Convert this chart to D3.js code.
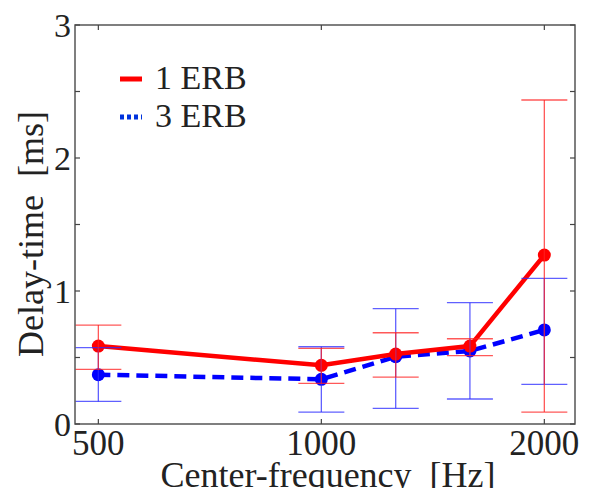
<!DOCTYPE html>
<html>
<head>
<meta charset="utf-8">
<script src="https://cdn.jsdelivr.net/npm/d3@7"></script>
<style>
  body { margin: 0; background: #fff; }
  text { font-family: "Liberation Serif", "Times New Roman", serif; fill: #222; white-space: pre; }
</style>
</head>
<body>
<div id="chart"></div>
<script>
"use strict";

// center frequencies (Hz)
const freqs = [500, 1000, 1260, 1587, 2000];
const xTicks = [500, 1000, 2000];
const yTicks = [0, 0.5, 1, 1.5, 2, 2.5, 3];
const yLabels = [0, 1, 2, 3];

// 1 ERB : mean, lower, upper (ms)
const erb1Mean = [0.586, 0.441, 0.526, 0.586, 1.27];
const erb1Low  = [0.411, 0.306, 0.353, 0.514, 0.09];
const erb1High = [0.744, 0.569, 0.686, 0.641, 2.436];

// 3 ERB
const erb3Mean = [0.371, 0.336, 0.506, 0.549, 0.707];
const erb3Low  = [0.17, 0.09, 0.118, 0.188, 0.298];
const erb3High = [0.574, 0.581, 0.867, 0.912, 1.095];

const width = 591, height = 488;
const plot = {left: 75, right: 575, top: 25, bottom: 424};

const svg = d3.select("#chart").append("svg")
  .attr("width", width)
  .attr("height", height);

const x = d3.scaleLog().domain([465, 2200]).range([plot.left, plot.right]);
const y = d3.scaleLinear().domain([0, 3]).range([plot.bottom, plot.top]);

const series = [
  {name: "3 ERB", color: "#0000ff", err: "#2b2bff", dash: "12,7", mean: erb3Mean, low: erb3Low, high: erb3High},
  {name: "1 ERB", color: "#ff0000", err: "#ff2020", dash: null, mean: erb1Mean, low: erb1Low, high: erb1High}
];

// lines + markers
const line = d3.line().x(d => x(d.f)).y(d => y(d.v));
series.forEach(s => {
  let pts = freqs.map((f, i) => ({f: f, v: s.mean[i]}));
  svg.append("path")
    .attr("d", line(pts))
    .attr("fill", "none")
    .attr("stroke", s.color)
    .attr("stroke-width", 4.5)
    .attr("stroke-dasharray", s.dash);
  svg.selectAll(null).data(pts).enter()
    .append("circle")
    .attr("cx", d => x(d.f))
    .attr("cy", d => y(d.v))
    .attr("r", 6.5)
    .attr("fill", s.color);
});

// error bars on top, slightly transparent
const capHalf = 23;
series.forEach(s => {
  let g = svg.append("g")
    .attr("stroke", s.err)
    .attr("stroke-width", 1.3)
    .attr("stroke-opacity", 0.75);
  freqs.forEach((f, i) => {
    let cx = x(f);
    g.append("line").attr("x1", cx).attr("x2", cx).attr("y1", y(s.low[i])).attr("y2", y(s.high[i]));
    g.append("line").attr("x1", cx - capHalf).attr("x2", cx + capHalf).attr("y1", y(s.low[i])).attr("y2", y(s.low[i]));
    g.append("line").attr("x1", cx - capHalf).attr("x2", cx + capHalf).attr("y1", y(s.high[i])).attr("y2", y(s.high[i]));
  });
});

// box
svg.append("rect")
  .attr("x", plot.left).attr("y", plot.top)
  .attr("width", plot.right - plot.left).attr("height", plot.bottom - plot.top)
  .attr("fill", "none").attr("stroke", "#555").attr("stroke-width", 1.5);

// ticks (inward, all four sides)
const tickLen = 5;
const ticks = svg.append("g").attr("stroke", "#444").attr("stroke-width", 1.2);
xTicks.forEach(t => {
  ticks.append("line").attr("x1", x(t)).attr("x2", x(t)).attr("y1", plot.bottom).attr("y2", plot.bottom - tickLen);
  ticks.append("line").attr("x1", x(t)).attr("x2", x(t)).attr("y1", plot.top).attr("y2", plot.top + tickLen);
});
yTicks.forEach(t => {
  ticks.append("line").attr("x1", plot.left).attr("x2", plot.left + tickLen).attr("y1", y(t)).attr("y2", y(t));
  ticks.append("line").attr("x1", plot.right).attr("x2", plot.right - tickLen).attr("y1", y(t)).attr("y2", y(t));
});

// tick labels
svg.selectAll(".xlab").data(xTicks).enter()
  .append("text")
  .attr("class", "xlab")
  .attr("x", d => x(d))
  .attr("y", 455)
  .attr("text-anchor", "middle")
  .style("font-size", "35px")
  .text(d => d);

svg.selectAll(".ylab").data(yLabels).enter()
  .append("text")
  .attr("class", "ylab")
  .attr("x", 71)
  .attr("y", d => y(d))
  .attr("dy", "0.36em")
  .attr("text-anchor", "end")
  .style("font-size", "34px")
  .text(d => d);

// axis titles
svg.append("text")
  .attr("x", 328)
  .attr("y", 487)
  .attr("text-anchor", "middle")
  .style("font-size", "36px")
  .text("Center-frequency  [Hz]");

svg.append("text")
  .attr("transform", "translate(43,234)rotate(-90)")
  .attr("text-anchor", "middle")
  .style("font-size", "36px")
  .text("Delay-time  [ms]");

// legend
const legend = [
  {name: "1 ERB", color: "#ff0000", dash: null, y: 79},
  {name: "3 ERB", color: "#0033dd", dash: "4,3", y: 117}
];
legend.forEach(l => {
  svg.append("line")
    .attr("x1", 120).attr("x2", 142)
    .attr("y1", l.y).attr("y2", l.y)
    .attr("stroke", l.color)
    .attr("stroke-width", 5)
    .attr("stroke-dasharray", l.dash);
  svg.append("text")
    .attr("x", 155)
    .attr("y", l.y + 8)
    .attr("dy", "0.05em")
    .style("font-size", "34px")
    .text(l.name);
});
</script>
</body>
</html>
